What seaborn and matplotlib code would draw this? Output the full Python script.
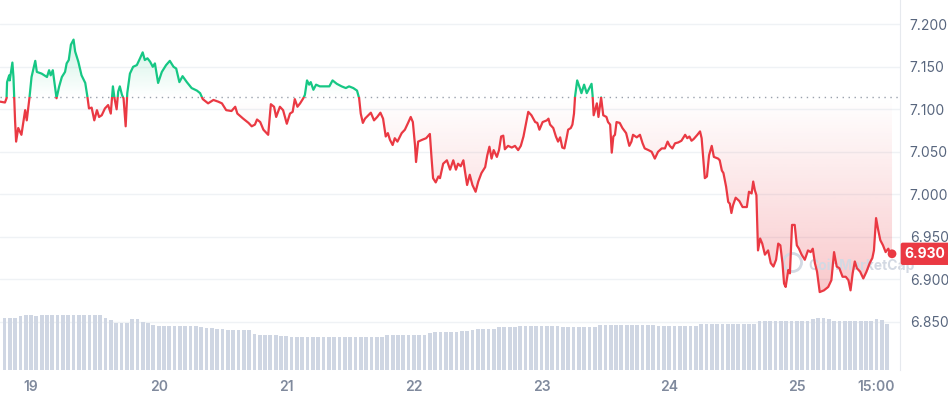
import matplotlib
matplotlib.use("Agg")
import matplotlib.pyplot as plt
import numpy as np
import seaborn as sns
from matplotlib.colors import to_rgb
from matplotlib.patches import Rectangle
from matplotlib.path import Path

# price, hours counted from the 19th 00:00
hours = [
    -5.8, -4.9, -4.6, -4.5, -4.1, -4.0, -3.5, -3.3, -3.0, -2.8,
    -2.4, -1.8, -1.1, -0.8, -0.3, 0.1, 0.8, 1.1, 2.0, 3.0,
    3.4, 3.7, 4.1, 4.4, 4.8, 5.3, 5.8, 6.4, 6.7, 7.1,
    7.5, 8.0, 8.3, 8.9, 9.2, 9.5, 10.2, 10.6, 10.9, 11.4,
    11.9, 12.4, 12.8, 13.3, 13.9, 14.5, 15.0, 15.4, 15.7, 16.1,
    16.4, 16.7, 17.1, 17.4, 17.8, 18.1, 18.6, 19.2, 19.9, 20.5,
    21.0, 21.4, 21.9, 22.4,
    22.9, 23.3, 23.9, 24.6, 25.4, 26.1, 26.8, 27.3, 27.9, 28.5,
    29.3, 30.2, 31.2, 31.8, 32.3, 33.3, 34.3, 35.2, 35.9, 36.7,
    37.7, 38.4, 38.8, 39.9, 40.9, 41.5, 42.1, 42.5, 43.1, 43.7,
    44.6, 45.1, 45.7, 46.1, 46.8, 47.4, 48.1, 48.7, 49.2, 49.6,
    50.1, 50.6,
    51.2, 51.5, 51.9, 52.3, 52.6, 53.1, 53.6, 54.3, 55.3, 56.1,
    56.7, 57.5, 58.4, 59.2, 59.8, 60.6, 61.3, 61.7, 62.0, 62.4,
    62.8, 63.9, 64.5, 65.1, 65.7, 66.2, 66.7, 67.1, 67.5, 68.0,
    68.4, 68.9, 69.7, 70.3, 70.9, 71.4, 71.8, 72.2, 72.4, 72.8,
    73.5, 74.3, 75.0, 75.3, 75.6, 76.1, 76.6, 76.9, 77.5, 78.2,
    78.8,
    79.4, 79.9, 80.3, 80.8, 81.3, 81.6, 82.0, 82.5, 83.0, 83.6,
    84.1, 84.7, 85.4, 85.8, 86.2, 86.6, 87.0, 87.6, 88.0, 88.4,
    88.8, 89.1, 89.7, 90.4, 91.0, 91.6, 92.1, 92.6, 93.1, 93.5,
    94.1, 94.8, 95.2, 95.6, 96.2, 97.0, 97.3, 97.6, 98.2, 98.7,
    99.1, 99.5, 99.9, 100.3, 100.7, 101.0, 101.5, 101.8, 102.1, 102.3,
    102.7, 103.2, 103.5, 104.0, 104.5, 105.0, 105.4, 105.6, 105.8, 106.4,
    106.7, 107.2, 107.6,
    108.2, 108.5, 108.9, 109.2, 109.5, 109.8, 110.1, 110.7, 111.2, 111.9,
    112.5, 112.9, 113.2, 113.9, 114.5, 115.0, 115.4, 116.1, 116.7, 117.3,
    117.9, 118.6, 119.2, 119.7, 120.1, 120.6, 121.1, 121.7, 122.3, 123.0,
    123.4, 123.8, 124.2, 124.6, 125.3, 125.8, 126.1, 126.4, 126.7, 127.1,
    127.5, 128.0, 128.4, 129.2, 129.5, 129.9, 130.2, 130.7, 131.1, 131.4,
    131.7, 132.0, 132.5, 133.2, 133.8, 134.6, 135.0,
    135.5, 135.8, 136.1, 136.4, 136.7, 137.1, 137.5, 138.0, 138.6, 139.1,
    139.6, 140.1, 140.5, 140.9, 141.3, 141.6, 141.9, 142.4, 142.7, 143.1,
    143.6, 144.0, 144.4, 144.9, 145.5, 146.1, 146.6, 147.0, 147.4, 147.8,
    148.3, 149.1, 149.9, 150.5, 151.0, 151.5, 152.0, 152.6, 153.2, 153.7,
    154.1, 154.5, 154.9, 155.3, 155.9, 156.5, 157.1, 157.7, 158.2, 158.5,
    158.9, 159.3, 159.7, 160.2, 160.7, 161.2, 161.5, 161.9,
]
price = [
    7.109, 7.108, 7.113, 7.132, 7.140, 7.134, 7.155, 7.138, 7.087, 7.062,
    7.078, 7.070, 7.099, 7.087, 7.113, 7.138, 7.157, 7.144, 7.142, 7.138,
    7.146, 7.140, 7.146, 7.132, 7.113, 7.127, 7.138, 7.144, 7.154, 7.158,
    7.176, 7.182, 7.168, 7.156, 7.148, 7.140, 7.131, 7.115, 7.101, 7.102,
    7.087, 7.099, 7.091, 7.093, 7.101, 7.105, 7.095, 7.127, 7.113, 7.100,
    7.121, 7.127, 7.117, 7.113, 7.080, 7.119, 7.142, 7.150, 7.152, 7.160,
    7.167, 7.158, 7.160, 7.156,
    7.150, 7.154, 7.131, 7.144, 7.152, 7.157, 7.150, 7.148, 7.132, 7.139,
    7.132, 7.125, 7.122, 7.119, 7.112, 7.107, 7.111, 7.109, 7.107, 7.099,
    7.098, 7.103, 7.095, 7.089, 7.084, 7.080, 7.082, 7.088, 7.085, 7.076,
    7.070, 7.106, 7.103, 7.091, 7.103, 7.099, 7.083, 7.095, 7.097, 7.112,
    7.103, 7.107,
    7.113, 7.117, 7.134, 7.129, 7.132, 7.123, 7.129, 7.127, 7.127, 7.127,
    7.134, 7.130, 7.127, 7.125, 7.127, 7.125, 7.122, 7.113, 7.095, 7.084,
    7.089, 7.096, 7.087, 7.091, 7.096, 7.089, 7.068, 7.072, 7.064, 7.058,
    7.066, 7.062, 7.072, 7.076, 7.084, 7.091, 7.085, 7.058, 7.038, 7.062,
    7.064, 7.066, 7.071, 7.044, 7.019, 7.014, 7.021, 7.019, 7.036, 7.040,
    7.029,
    7.040, 7.029, 7.036, 7.033, 7.040, 7.027, 7.011, 7.023, 7.011, 7.003,
    7.015, 7.025, 7.032, 7.046, 7.056, 7.042, 7.052, 7.044, 7.052, 7.068,
    7.069, 7.053, 7.057, 7.055, 7.057, 7.052, 7.057, 7.068, 7.084, 7.097,
    7.093, 7.085, 7.084, 7.076, 7.085, 7.087, 7.089, 7.082, 7.078, 7.068,
    7.062, 7.067, 7.055, 7.054, 7.066, 7.076, 7.078, 7.082, 7.095, 7.115,
    7.134, 7.125, 7.119, 7.129, 7.119, 7.125, 7.130, 7.116, 7.093, 7.107,
    7.091, 7.114, 7.093,
    7.091, 7.085, 7.082, 7.049, 7.068, 7.070, 7.085, 7.084, 7.078, 7.072,
    7.057, 7.062, 7.070, 7.067, 7.070, 7.060, 7.054, 7.052, 7.050, 7.042,
    7.050, 7.054, 7.054, 7.062, 7.057, 7.054, 7.060, 7.061, 7.063, 7.070,
    7.066, 7.068, 7.063, 7.065, 7.070, 7.074, 7.066, 7.042, 7.019, 7.021,
    7.046, 7.057, 7.044, 7.042, 7.040, 7.028, 7.025, 7.009, 6.991, 6.989,
    6.978, 6.987, 6.996, 6.992, 6.985, 6.985, 7.003,
    7.001, 7.015, 7.005, 6.999, 6.934, 6.948, 6.942, 6.929, 6.934, 6.919,
    6.915, 6.923, 6.942, 6.940, 6.919, 6.895, 6.891, 6.911, 6.907, 6.964,
    6.964, 6.940, 6.936, 6.929, 6.923, 6.934, 6.932, 6.936, 6.919, 6.909,
    6.885, 6.887, 6.891, 6.899, 6.932, 6.915, 6.913, 6.903, 6.903, 6.899,
    6.887, 6.907, 6.921, 6.913, 6.909, 6.901, 6.909, 6.919, 6.925, 6.934,
    6.972, 6.958, 6.946, 6.940, 6.932, 6.936, 6.931, 6.930,
]
baseline = 7.114
last_label = "6.930"

# hourly volume bars (relative height)
vol_hours = list(range(-5, 162))
volume = [
    52, 52, 52, 54, 55, 55, 54, 55, 55,
    55, 55, 55, 55, 55, 55, 55, 55, 55, 55,
    52, 50, 47, 47, 47, 51, 51, 48, 47,
    45, 44, 44, 44, 44, 44, 44, 44, 44,
    43, 42, 42, 41, 41, 40, 40, 40, 40, 40,
    36, 35, 35, 35, 35, 34, 34,
    33, 33, 33, 33, 33, 33, 33, 33, 33, 33, 33, 33, 33, 33, 33, 33, 33, 33,
    35, 35, 35, 35, 35, 35, 35, 35,
    37, 38, 38, 38, 38, 38, 39, 39,
    40, 41, 41, 41, 41, 43, 43, 43, 43,
    44, 44, 44, 44, 44, 44, 44, 44,
    43, 43, 43, 43, 43, 43, 43,
    45, 45, 45, 45, 45, 45, 45, 45, 45, 45, 45,
    44, 44, 44, 44, 44, 44, 44, 44,
    46, 46, 46, 46, 46, 46, 46, 46, 46, 46, 46,
    49, 49, 49, 49, 49, 49, 49, 49, 49, 49,
    51, 52, 52, 51,
    49, 49, 49, 49, 49, 49, 49, 49,
    51, 50, 46,
]

tick_hours = [0, 24, 48, 72, 96, 120, 144, 159]
tick_labels = ["19", "20", "21", "22", "23", "24", "25", "15:00"]
price_ticks = [6.85, 6.90, 6.95, 7.00, 7.05, 7.10, 7.15, 7.20]
price_labels = ["6.850", "6.900", "6.950", "7.000", "7.050", "7.100", "7.150", "7.200"]

GREEN = "#16c784"
RED = "#ea3943"

sns.set_style("white")
plt.rcParams["font.family"] = ["Inter", "DejaVu Sans"]

x0, x1 = -5.83, 163.4
y0, y1 = 6.7933, 7.2286

fig = plt.figure(figsize=(9.48, 3.96), dpi=100)
ax = fig.add_axes([0, 26 / 396, 900 / 948, 370 / 396])
ax2 = ax.twinx()

# volume
sns.barplot(x=vol_hours, y=volume, native_scale=True, color="#cfd6e3",
            saturation=1, width=0.7, errorbar=None, linewidth=0, ax=ax2)
ax2.set_ylim(0, 370)
ax2.set_yticks([])
ax2.set_ylabel("")
for s in ax2.spines.values():
    s.set_visible(False)

hx = np.array(hours)
py = np.array(price)


def gradient_fill(where, color, lo, hi, a_lo, a_hi):
    poly = ax.fill_between(hx, py, baseline, where=where, interpolate=True,
                           facecolor="none", edgecolor="none")
    path = Path.make_compound_path(*poly.get_paths())
    poly.remove()
    grad = np.zeros((256, 1, 4))
    grad[..., :3] = to_rgb(color)
    grad[..., 3] = np.linspace(a_lo, a_hi, 256)[:, None]
    im = ax.imshow(grad, extent=[x0, x1, lo, hi], origin="lower",
                   aspect="auto", zorder=1, interpolation="bilinear")
    im.set_clip_path(path, transform=ax.transData)


gradient_fill(py >= baseline, GREEN, baseline, 7.185, 0.0, 0.22)
gradient_fill(py <= baseline, RED, 6.88, baseline, 0.28, 0.0)

# watermark (faint, under the line)
ax.plot([0.88], [0.292], marker="o", ms=13, mfc="none", mec="#d3d9e3",
        mew=2, transform=ax.transAxes, zorder=2)
ax.text(0.898, 0.283, "CoinMarketCap", transform=ax.transAxes, fontsize=10,
        fontweight="bold", color="#d3d9e3", va="center", ha="left", zorder=2)

# price line, green above the open, red below
sns.lineplot(x=hours, y=price, ax=ax, color=GREEN, lw=1.6, estimator=None,
             legend=False, zorder=3)
ax.lines[-1].set_clip_path(Rectangle((x0, baseline), x1 - x0, y1 - baseline,
                                     transform=ax.transData))
sns.lineplot(x=hours, y=price, ax=ax, color=RED, lw=1.6, estimator=None,
             legend=False, zorder=3)
ax.lines[-1].set_clip_path(Rectangle((x0, y0), x1 - x0, baseline - y0,
                                     transform=ax.transData))

ax.axhline(baseline, color="#9aa1ad", lw=1, ls=(0, (1, 3.3)), zorder=2)
sns.scatterplot(x=hours[-1:], y=price[-1:], ax=ax, color=RED, s=40,
                edgecolor="none", legend=False, zorder=5)

# axes
ax.set_xlim(x0, x1)
ax.set_ylim(y0, y1)
ax.yaxis.tick_right()
ax.set_yticks(price_ticks)
ax.set_yticklabels(price_labels)
ax.set_xticks(tick_hours)
ax.set_xticklabels(tick_labels, fontweight="semibold")
ax.tick_params(axis="y", length=0, pad=7, labelsize=10, labelcolor="#58667e")
ax.tick_params(axis="x", length=0, pad=7, labelsize=10, labelcolor="#808a9d")
ax.grid(axis="y", color="#eff2f5", lw=1)
ax.set_axisbelow(True)
for side in ["left", "top", "bottom"]:
    ax.spines[side].set_visible(False)
ax.spines["right"].set_color("#e6e9ee")
ax.set_xlabel("")
ax.set_ylabel("")

ax.annotate(last_label, xy=(1, price[-1]), xycoords=("axes fraction", "data"),
            xytext=(3.5, 0), textcoords="offset points", ha="left", va="center",
            fontsize=10, fontweight="bold", color="white",
            bbox=dict(boxstyle="round,pad=0.3,rounding_size=0.15", fc=RED, ec="none"),
            annotation_clip=False, zorder=6)

fig.savefig("out.png", dpi=100)
